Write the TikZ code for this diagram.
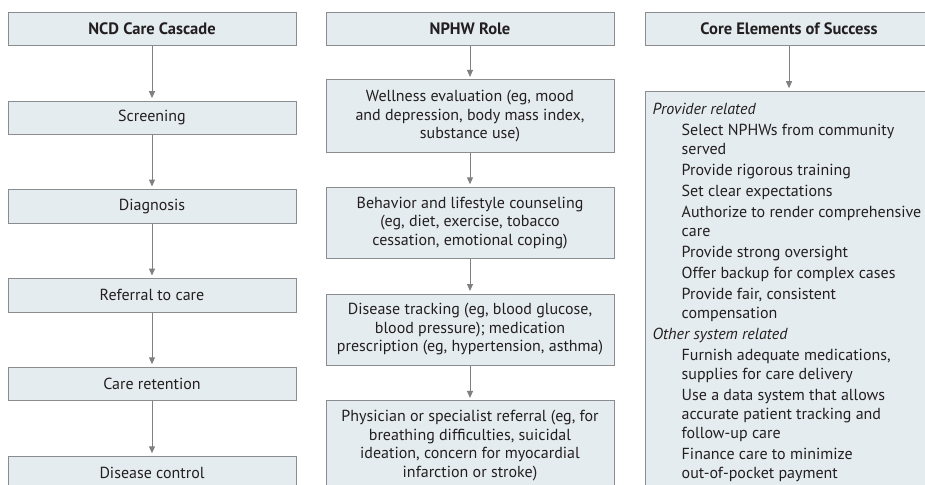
\documentclass[tikz,border=0pt]{standalone}
\usepackage{fontspec}
\setmainfont{PT Sans}
\usetikzlibrary{arrows.meta}
\definecolor{boxfill}{RGB}{229,236,240}
\definecolor{boxdraw}{RGB}{138,140,143}
\definecolor{arrowcol}{RGB}{128,128,130}
\definecolor{textcol}{RGB}{35,31,32}
\begin{document}
\begin{tikzpicture}[x=1pt,y=-1pt,
  box/.style={draw=boxdraw, fill=boxfill, line width=1pt, minimum width=288pt, inner sep=0pt,
    align=center, text=textcol, font=\fontsize{16}{18.5}\selectfont},
  onebox/.style={box, minimum height=33.5pt},
  titlebox/.style={box, minimum height=33pt, font=\bfseries\fontsize{16.5}{18}\selectfont},
  flow/.style={draw=arrowcol, line width=1pt, -{Triangle[width=6pt,length=7pt]}, shorten >=2.5pt}]
\useasboundingbox (0,0) rectangle (925,484);
\clip (0,0) rectangle (925,484);
% left column
\node[titlebox] (t1) at (152,29.2) {NCD Care Cascade};
\node[onebox] (c1) at (152,117.9) {Screening};
\node[onebox] (c2) at (152,206.3) {Diagnosis};
\node[onebox] (c3) at (152,295.3) {Referral to care};
\node[onebox] (c4) at (152,384) {Care retention};
\node[onebox] (c5) at (152,473) {Disease control};
% middle column
\node[titlebox] (t2) at (470,29.2) {NPHW Role};
\node[box, minimum height=72.7pt] (r1) at (470,116.3) {Wellness evaluation (eg, mood\\ and depression, body mass index,\\ substance use)};
\node[box, minimum height=71pt] (r2) at (470,222.8) {Behavior and lifestyle counseling\\ (eg, diet, exercise, tobacco\\ cessation, emotional coping)};
\node[box, minimum height=71pt] (r3) at (470,329.5) {Disease tracking (eg, blood glucose,\\ blood pressure); medication\\ prescription (eg, hypertension, asthma)};
\node[box, minimum height=89.7pt] (r4) at (470,445.8) {Physician or specialist referral (eg, for\\ breathing difficulties, suicidal\\ ideation, concern for myocardial\\ infarction or stroke)};
% right column
\node[titlebox] (t3) at (789,29.2) {Core Elements of Success};
\node[box, anchor=north west, minimum width=300pt, minimum height=420pt] (core) at (645,90.7) {};
\node[anchor=north west, inner sep=0pt, align=left, text=textcol, font=\fontsize{16}{19}\selectfont] (coretext) at (652.5,102.5) {%
\textit{Provider related}\\[2.5pt]
\hspace*{29pt}Select NPHWs from community\\
\hspace*{29pt}served\\[2pt]
\hspace*{29pt}Provide rigorous training\\[2pt]
\hspace*{29pt}Set clear expectations\\[2pt]
\hspace*{29pt}Authorize to render comprehensive\\
\hspace*{29pt}care\\[2pt]
\hspace*{29pt}Provide strong oversight\\[2pt]
\hspace*{29pt}Offer backup for complex cases\\[2pt]
\hspace*{29pt}Provide fair, consistent\\
\hspace*{29pt}compensation\\[2pt]
\textit{Other system related}\\[2pt]
\hspace*{29pt}Furnish adequate medications,\\
\hspace*{29pt}supplies for care delivery\\[2pt]
\hspace*{29pt}Use a data system that allows\\
\hspace*{29pt}accurate patient tracking and\\
\hspace*{29pt}follow-up care\\[2pt]
\hspace*{29pt}Finance care to minimize\\
\hspace*{29pt}out-of-pocket payment};
% connectors
\draw[flow] (t1) -- (c1);
\draw[flow] (c1) -- (c2);
\draw[flow] (c2) -- (c3);
\draw[flow] (c3) -- (c4);
\draw[flow] (c4) -- (c5);
\draw[flow] (t2) -- (r1);
\draw[flow] (r1) -- (r2);
\draw[flow] (r2) -- (r3);
\draw[flow] (r3) -- (r4);
\draw[flow] (t3.south) -- (t3.south |- core.north);
\end{tikzpicture}
\end{document}
